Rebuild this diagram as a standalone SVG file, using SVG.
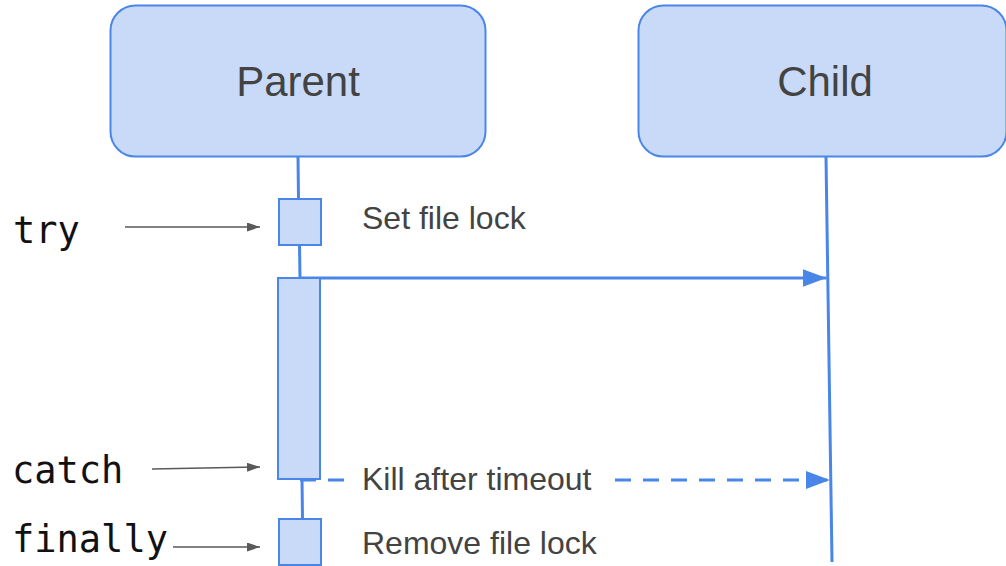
<svg xmlns="http://www.w3.org/2000/svg" width="1006" height="566" viewBox="0 0 1006 566">
<style>
.node{fill:#c9daf8;stroke:#4a86e8;stroke-width:2}
.act{fill:#c9daf8;stroke:#4a86e8;stroke-width:2}
.life{stroke:#4a86e8;stroke-width:3;fill:none}
.msg{stroke:#4a86e8;stroke-width:3;fill:none}
.dash{stroke:#4a86e8;stroke-width:3;fill:none;stroke-dasharray:16 12}
.gray{stroke:#595959;stroke-width:1.5;fill:none}
.title{font-family:"Liberation Sans",Arial,sans-serif;font-size:42px;fill:#434343;text-anchor:middle}
.lbl{font-family:"Liberation Sans",Arial,sans-serif;font-size:32px;fill:#434343}
.code{font-family:"DejaVu Sans Mono",monospace;font-size:37px;fill:#111}
</style>
<defs>
<marker id="blue" viewBox="0 0 24 18" refX="24" refY="9" markerWidth="24" markerHeight="18" markerUnits="userSpaceOnUse" orient="auto">
<path d="M0,0 L24,9 L0,18 Z" fill="#4a86e8"/>
</marker>
<marker id="grayh" viewBox="0 0 13 9" refX="13" refY="4.5" markerWidth="13" markerHeight="9" markerUnits="userSpaceOnUse" orient="auto">
<path d="M0,0 L13,4.5 L0,9 Z" fill="#595959"/>
</marker>
</defs>
<g id="connectors">
<line class="life" x1="298" y1="157" x2="298.5" y2="199"/>
<line class="life" x1="299.5" y1="245" x2="300" y2="278"/>
<line class="life" x1="302" y1="479" x2="302.5" y2="519"/>
<line class="life" x1="826" y1="157" x2="832" y2="562"/>
<line class="msg" x1="300" y1="278" x2="826.5" y2="278" marker-end="url(#blue)"/>
<line class="dash" x1="300" y1="480" x2="345" y2="480"/>
<line class="dash" x1="615" y1="480" x2="830" y2="480" marker-end="url(#blue)"/>
<line class="gray" x1="125" y1="227" x2="260" y2="227" marker-end="url(#grayh)"/>
<line class="gray" x1="152" y1="469" x2="260" y2="467" marker-end="url(#grayh)"/>
<line class="gray" x1="173" y1="547" x2="260" y2="547" marker-end="url(#grayh)"/>
</g>
<g id="parent">
<rect class="node" x="110.5" y="5.5" width="375" height="151" rx="25"/>
<text class="title" x="298" y="96">Parent</text>
</g>
<g id="child">
<rect class="node" x="638.5" y="5.5" width="368" height="151" rx="25"/>
<text class="title" x="825" y="96">Child</text>
</g>
<g id="try-activation">
<rect class="act" x="279" y="199" width="42" height="46"/>
</g>
<g id="main-activation">
<rect class="act" x="278" y="278" width="42" height="201"/>
</g>
<g id="finally-activation">
<rect class="act" x="279" y="519" width="42" height="46"/>
</g>
<g id="labels">
<text class="lbl" x="362" y="229">Set file lock</text>
<text class="lbl" x="362" y="490">Kill after timeout</text>
<text class="lbl" x="362" y="554">Remove file lock</text>
<text class="code" x="13" y="243">try</text>
<text class="code" x="12" y="483">catch</text>
<text class="code" x="12" y="552">finally</text>
</g>
</svg>
